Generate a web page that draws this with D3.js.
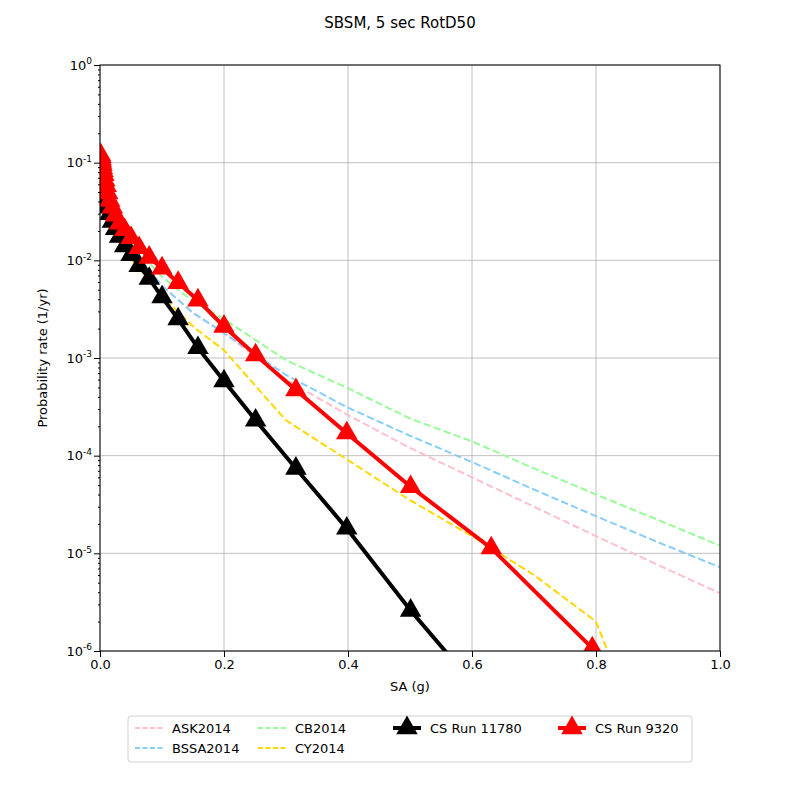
<!DOCTYPE html>
<html><head><meta charset="utf-8">
<script src="https://cdn.jsdelivr.net/npm/d3@7"></script>
<style>body{margin:0;background:#fff}text{font-family:"DejaVu Sans",sans-serif}</style>
</head><body><svg id="c" width="800" height="800"></svg>
<script>
const gmpeX = [0.001, 0.005, 0.01, 0.02, 0.05, 0.1, 0.15, 0.2, 0.3, 0.4, 0.5, 0.6, 0.7, 0.8, 0.9, 1.0];
const ask  = [0.055, 0.045, 0.038, 0.028, 0.013, 0.0055, 0.0029, 0.0018, 6.0e-4, 2.6e-4, 1.2e-4, 6.0e-5, 3.0e-5, 1.5e-5, 7.6e-6, 3.9e-6];
const bssa = [0.055, 0.045, 0.038, 0.028, 0.013, 0.0055, 0.0029, 0.0018, 6.7e-4, 3.1e-4, 1.6e-4, 8.6e-5, 4.5e-5, 2.4e-5, 1.3e-5, 7.2e-6];
const cb   = [0.06, 0.05, 0.042, 0.031, 0.015, 0.0068, 0.0038, 0.0025, 9.5e-4, 4.9e-4, 2.4e-4, 1.4e-4, 7.4e-5, 4.0e-5, 2.2e-5, 1.2e-5];
const cy   = [0.05, 0.04, 0.033, 0.023, 0.0105, 0.0043, 0.0021, 0.0012, 2.3e-4, 9.0e-5, 3.5e-5, 1.5e-5, 6.0e-6, 2.0e-6, 5e-8, 1e-9];
const csX  = [0.001, 0.00126, 0.00158, 0.002, 0.00251, 0.00316, 0.00398, 0.00501, 0.00631, 0.00794, 0.01, 0.0126, 0.0158, 0.02, 0.0251, 0.0316, 0.0398, 0.0501, 0.0631, 0.0794, 0.1, 0.126, 0.158, 0.2, 0.251, 0.316, 0.398, 0.501, 0.631, 0.794];
const cs11780 = [0.048, 0.047, 0.047, 0.046, 0.046, 0.045, 0.044, 0.043, 0.042, 0.041, 0.040, 0.035, 0.030, 0.025, 0.021, 0.0175, 0.014, 0.0114, 0.0088, 0.0065, 0.0042, 0.0025, 0.00127, 5.8e-4, 2.3e-4, 7.4e-5, 1.8e-5, 2.6e-6, 2.8e-7, 1e-8];
const cs9320 = [0.12, 0.115, 0.11, 0.105, 0.1, 0.095, 0.088, 0.082, 0.075, 0.066, 0.058, 0.049, 0.041, 0.035, 0.029, 0.024, 0.0205, 0.017, 0.0134, 0.0107, 0.0083, 0.0059, 0.0039, 0.0021, 0.00107, 4.7e-4, 1.7e-4, 4.8e-5, 1.13e-5, 1.07e-6];

const svg = d3.select("#c");
const m = {l: 100, r: 720, t: 65, b: 651};
const x = d3.scaleLinear().domain([0, 1]).range([m.l, m.r]);
const y = d3.scaleLog().domain([1e-6, 1]).range([m.b, m.t]);

svg.append("defs").append("clipPath").attr("id", "clip")
  .append("rect").attr("x", m.l).attr("y", m.t).attr("width", m.r - m.l).attr("height", m.b - m.t);

const xt = [0, 0.2, 0.4, 0.6, 0.8, 1.0];
const yt = [1e-6, 1e-5, 1e-4, 1e-3, 1e-2, 1e-1, 1];
const grid = svg.append("g").attr("stroke", "#b0b0b0").attr("stroke-width", 0.8);
xt.forEach(v => grid.append("line").attr("x1", x(v)).attr("x2", x(v)).attr("y1", m.t).attr("y2", m.b));
yt.forEach(v => grid.append("line").attr("y1", y(v)).attr("y2", y(v)).attr("x1", m.l).attr("x2", m.r));

const plot = svg.append("g").attr("clip-path", "url(#clip)");
const line = d3.line().x(d => x(d[0])).y(d => y(d[1]));
const dashed = [[ask, "pink"], [bssa, "#87cefa"], [cb, "#98fb98"], [cy, "#ffd700"]];
dashed.forEach(([vals, c]) => plot.append("path").datum(gmpeX.map((v, i) => [v, vals[i]]))
  .attr("d", line).attr("fill", "none").attr("stroke", c).attr("stroke-width", 2).attr("stroke-dasharray", "7.4,3.2"));

const tri = d3.symbol().type(d3.symbolTriangle).size(200);
[[cs11780, "black"], [cs9320, "red"]].forEach(([vals, c]) => {
  const pts = csX.map((v, i) => [v, vals[i]]);
  plot.append("path").datum(pts).attr("d", line).attr("fill", "none").attr("stroke", c).attr("stroke-width", 4);
  plot.selectAll(null).data(pts.filter(d => d[1] >= 1e-6)).join("path").attr("d", tri).attr("fill", c)
    .attr("transform", d => `translate(${x(d[0])},${y(d[1])})`);
});

svg.append("rect").attr("x", m.l).attr("y", m.t).attr("width", m.r - m.l).attr("height", m.b - m.t)
  .attr("fill", "none").attr("stroke", "black");

const xa = svg.append("g").attr("transform", `translate(0,${m.b})`)
  .call(d3.axisBottom(x).tickValues(xt).tickFormat(d3.format(".1f")).tickSizeOuter(0));
const ya = svg.append("g").attr("transform", `translate(${m.l},0)`)
  .call(d3.axisLeft(y).tickValues(yt).tickFormat(() => "").tickSizeOuter(0));
const minor = [];
for (let e = -6; e < 0; e++) for (let k = 2; k < 10; k++) minor.push(k * Math.pow(10, e));
svg.append("g").attr("transform", `translate(${m.l},0)`)
  .call(d3.axisLeft(y).tickValues(minor).tickSize(2).tickFormat(() => "")).select(".domain").remove();
[xa, ya].forEach(a => { a.select(".domain").remove(); a.selectAll("text").attr("font-size", 13).attr("fill", "black"); });
ya.selectAll(".tick").each(function(d) {
  const t = d3.select(this).select("text").attr("x", -8).attr("dy", "0.32em");
  t.text("10"); t.append("tspan").attr("font-size", 9).attr("dy", "-0.6em").text(Math.round(Math.log10(d)));
});

svg.append("text").attr("x", 400).attr("y", 28).attr("text-anchor", "middle").attr("font-size", 15).text("SBSM, 5 sec RotD50");
svg.append("text").attr("x", 410).attr("y", 691).attr("text-anchor", "middle").attr("font-size", 13).text("SA (g)");
svg.append("text").attr("transform", `translate(47,358) rotate(-90)`).attr("text-anchor", "middle").attr("font-size", 13).text("Probability rate (1/yr)");

const lg = svg.append("g");
lg.append("rect").attr("x", 128).attr("y", 716).attr("width", 564).attr("height", 46).attr("rx", 3)
  .attr("fill", "white").attr("stroke", "#d0d0d0");
const items = [
  ["ASK2014", "pink", 0, 0, false], ["BSSA2014", "#87cefa", 0, 1, false],
  ["CB2014", "#98fb98", 1, 0, false], ["CY2014", "#ffd700", 1, 1, false],
  ["CS Run 11780", "black", 2, 0, true], ["CS Run 9320", "red", 3, 0, true]];
const colX = [135, 258, 393, 558];
items.forEach(([name, c, col, row, mk]) => {
  const x0 = colX[col], y0 = 728 + row * 20;
  lg.append("line").attr("x1", x0).attr("x2", x0 + 28).attr("y1", y0).attr("y2", y0).attr("stroke", c)
    .attr("stroke-width", mk ? 4 : 2).attr("stroke-dasharray", mk ? null : "5,2.5");
  if (mk) lg.append("path").attr("d", tri).attr("fill", c).attr("transform", `translate(${x0 + 14},${y0})`);
  lg.append("text").attr("x", x0 + 37).attr("y", y0 + 4.5).attr("font-size", 13).text(name);
});
</script></body></html>
